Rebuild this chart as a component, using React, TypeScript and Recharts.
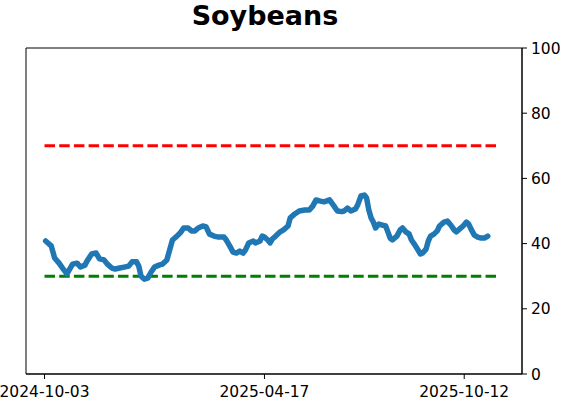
import { LineChart, Line, XAxis, YAxis, ReferenceLine, ReferenceArea } from "recharts";

// day offsets from 2024-10-03
const days = [
  1, 6, 9, 13, 16, 20, 21, 25, 29, 32, 36, 38, 42, 46, 49, 53, 56, 60, 63, 67,
  71, 75, 78, 82, 84, 86, 89, 92, 95, 98, 102, 105, 109, 111, 114, 118, 121, 124, 128, 131,
  134, 137, 141, 144, 147, 151, 155, 160, 162, 165, 168, 171, 174, 177, 179, 182, 186, 188, 192, 194,
  196, 199, 201, 203, 206, 210, 213, 217, 219, 223, 227, 232, 236, 239, 242, 245, 249, 254, 258, 261,
  265, 267, 270, 273, 277, 279, 282, 285, 287, 289, 291, 293, 295, 298, 301, 304, 306, 308, 310, 314,
  317, 319, 322, 325, 327, 330, 332, 335, 337, 340, 342, 344, 347, 350, 352, 356, 359, 362, 365, 367,
  370, 373, 376, 378, 380, 383, 386, 389, 392, 395,
];

const values = [
  40.8, 39.3, 35.6, 34, 32.5, 30.7, 31.3, 33.7, 34, 32.8, 33.4, 34.7, 36.8, 37.1, 35.3, 35, 33.7, 32.5, 32.2, 32.5,
  32.8, 33.1, 34.4, 34.4, 33.1, 30, 29.1, 29.4, 31.3, 32.8, 33.4, 33.7, 35, 37.4, 41.1, 42.3, 43.3, 44.8, 44.8, 43.9,
  43.9, 44.8, 45.4, 45.1, 42.9, 42.3, 42, 42, 41.1, 39.3, 37.4, 37.1, 37.7, 37.1, 38, 40.2, 40.8, 40.2, 40.8, 42.3,
  42, 41.1, 40.2, 41.4, 42.3, 43.6, 44.2, 45.4, 47.9, 49.1, 50, 50.3, 50.3, 51.5, 53.4, 53.1, 52.8, 53.4, 51.5, 50,
  49.8, 50, 50.9, 50, 50.6, 51.8, 54.6, 54.9, 54, 50.3, 47.9, 46.6, 44.8, 46, 45.7, 45.4, 43.6, 41.7, 41.1, 42.3,
  44.2, 44.8, 43.6, 42.9, 41.1, 39.6, 38.5, 36.8, 37.1, 38.3, 40.8, 42.3, 42.9, 43.9, 45.4, 46.6, 46.9, 45.7, 44.2, 43.6,
  44.5, 45.4, 46.6, 46, 44.5, 42.6, 42, 41.7, 41.7, 42.3,
];

const tickDays = [0, 196, 374];
const tickLabels = ["2024-10-03", "2025-04-17", "2025-10-12"];
const yTicks = [0, 20, 40, 60, 80, 100];

const upperLevel = 70;
const lowerLevel = 30;
const levelEnd = 405;

const data = days.map((d, i) => ({ d, v: values[i] }));

const font = "DejaVu Sans, sans-serif";

export default function App() {
  return (
    <div style={{ position: "absolute", left: 0, top: 0, width: 562, height: 402, background: "#fff" }}>
      <div
        style={{
          position: "absolute",
          left: 0,
          width: 530,
          top: 0,
          textAlign: "center",
          fontFamily: font,
          fontWeight: "bold",
          fontSize: 27,
          lineHeight: "31px",
          color: "#000",
        }}
      >
        Soybeans
      </div>
      <LineChart width={562} height={402} data={data} margin={{ top: 48, right: 0, bottom: 0, left: 26 }}>
        <XAxis
          dataKey="d"
          type="number"
          domain={[-16.5, 425.5]}
          allowDataOverflow
          ticks={tickDays}
          tickFormatter={(t: number) => tickLabels[tickDays.indexOf(t)] ?? ""}
          height={28}
          tickSize={5}
          tickMargin={7}
          stroke="#000"
          tick={{ fill: "#000", fontSize: 15.5, fontFamily: font }}
          tickLine={{ stroke: "#000" }}
          interval={0}
        />
        <YAxis
          orientation="right"
          type="number"
          domain={[0, 100]}
          ticks={yTicks}
          width={40}
          tickSize={5}
          tickMargin={4}
          stroke="#000"
          tick={{ fill: "#000", fontSize: 15.5, fontFamily: font }}
          tickLine={{ stroke: "#000" }}
          interval={0}
        />
        <ReferenceArea x1={-16.5} x2={425.5} y1={0} y2={100} fill="none" stroke="#000" strokeWidth={1} />
        <ReferenceLine
          segment={[{ x: 0, y: upperLevel }, { x: levelEnd, y: upperLevel }]}
          stroke="#ff0000"
          strokeWidth={3}
          strokeDasharray="10.5 4.2"
        />
        <ReferenceLine
          segment={[{ x: 0, y: lowerLevel }, { x: levelEnd, y: lowerLevel }]}
          stroke="#008000"
          strokeWidth={3}
          strokeDasharray="10.5 4.2"
        />
        <Line
          type="linear"
          dataKey="v"
          stroke="#1f77b4"
          strokeWidth={5.5}
          strokeLinejoin="round"
          strokeLinecap="round"
          dot={false}
          activeDot={false}
          isAnimationActive={false}
        />
      </LineChart>
    </div>
  );
}
